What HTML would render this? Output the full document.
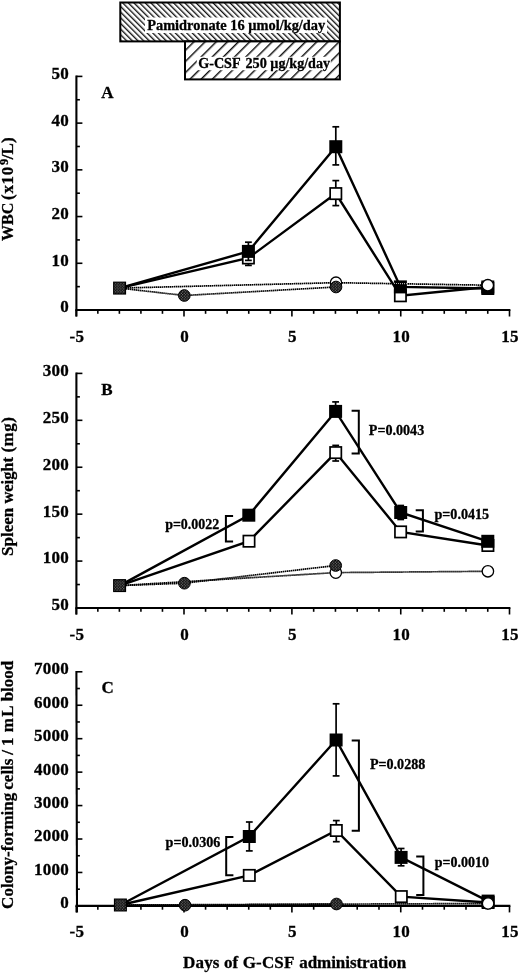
<!DOCTYPE html>
<html><head><meta charset="utf-8"><title>Figure</title>
<style>html,body{margin:0;padding:0;background:#fff;}svg{display:block;will-change:transform;}text{font-family:"Liberation Serif",serif;font-weight:bold;fill:#000;stroke:#000;stroke-width:0.3px;}</style></head><body>
<svg width="520" height="973" viewBox="0 0 520 973">
<defs>
<pattern id="h1" width="4" height="4" patternUnits="userSpaceOnUse" patternTransform="rotate(-45)">
<rect width="4" height="4" fill="#fff"/><rect width="1.35" height="4" fill="#111"/></pattern>
<pattern id="h2" width="7.9" height="8" patternUnits="userSpaceOnUse" patternTransform="rotate(45)">
<rect width="7.9" height="8" fill="#fff"/><rect width="1.45" height="8" fill="#111"/></pattern>
<pattern id="g" width="2.8" height="2.8" patternUnits="userSpaceOnUse">
<rect width="2.8" height="2.8" fill="#000"/><circle cx="0.7" cy="0.7" r="0.6" fill="#999"/><circle cx="2.1" cy="2.1" r="0.6" fill="#999"/></pattern>
</defs>
<rect width="520" height="973" fill="#fff"/>
<rect x="120.3" y="2.5" width="219.6" height="38.9" fill="url(#h1)" stroke="#000" stroke-width="2"/>
<rect x="185" y="41.4" width="154.9" height="38" fill="url(#h2)" stroke="#000" stroke-width="2"/>
<rect x="145" y="17.5" width="182" height="15.5" fill="#fff"/>
<rect x="196.8" y="56.8" width="134" height="13.4" fill="#fff"/>
<text x="147.2" y="29.5" font-size="14" textLength="178" lengthAdjust="spacingAndGlyphs">Pamidronate 16 µmol/kg/day</text>
<g font-size="14.4"><text x="198.2" y="68.0" textLength="42.4" lengthAdjust="spacingAndGlyphs">G-CSF</text><text x="245.5" y="68.0" textLength="21.35" lengthAdjust="spacingAndGlyphs">250</text><text x="270.3" y="68.0" textLength="59.7" lengthAdjust="spacingAndGlyphs">µg/kg/day</text></g>
<line x1="76.4" y1="75.5" x2="76.4" y2="316.5" stroke="#000" stroke-width="2.1"/>
<line x1="75.4" y1="310.0" x2="510.4" y2="310.0" stroke="#000" stroke-width="2.2"/>
<line x1="76.4" y1="286.64" x2="79.9" y2="286.64" stroke="#000" stroke-width="1.6"/>
<line x1="76.4" y1="263.28" x2="82.4" y2="263.28" stroke="#000" stroke-width="1.6"/>
<line x1="76.4" y1="239.92" x2="79.9" y2="239.92" stroke="#000" stroke-width="1.6"/>
<line x1="76.4" y1="216.56" x2="82.4" y2="216.56" stroke="#000" stroke-width="1.6"/>
<line x1="76.4" y1="193.20" x2="79.9" y2="193.20" stroke="#000" stroke-width="1.6"/>
<line x1="76.4" y1="169.84" x2="82.4" y2="169.84" stroke="#000" stroke-width="1.6"/>
<line x1="76.4" y1="146.48" x2="79.9" y2="146.48" stroke="#000" stroke-width="1.6"/>
<line x1="76.4" y1="123.12" x2="82.4" y2="123.12" stroke="#000" stroke-width="1.6"/>
<line x1="76.4" y1="99.76" x2="79.9" y2="99.76" stroke="#000" stroke-width="1.6"/>
<line x1="76.4" y1="76.40" x2="82.4" y2="76.40" stroke="#000" stroke-width="1.6"/>
<text x="69.1" y="312.40" font-size="17" letter-spacing="0.3" text-anchor="end">0</text>
<text x="69.1" y="265.68" font-size="17" letter-spacing="0.3" text-anchor="end">10</text>
<text x="69.1" y="218.96" font-size="17" letter-spacing="0.3" text-anchor="end">20</text>
<text x="69.1" y="172.24" font-size="17" letter-spacing="0.3" text-anchor="end">30</text>
<text x="69.1" y="125.52" font-size="17" letter-spacing="0.3" text-anchor="end">40</text>
<text x="69.1" y="78.80" font-size="17" letter-spacing="0.3" text-anchor="end">50</text>
<line x1="76.30" y1="310.0" x2="76.30" y2="316.5" stroke="#000" stroke-width="1.6"/>
<line x1="97.84" y1="310.0" x2="97.84" y2="313.8" stroke="#000" stroke-width="1.6"/>
<line x1="119.38" y1="310.0" x2="119.38" y2="313.8" stroke="#000" stroke-width="1.6"/>
<line x1="140.92" y1="310.0" x2="140.92" y2="313.8" stroke="#000" stroke-width="1.6"/>
<line x1="162.46" y1="310.0" x2="162.46" y2="313.8" stroke="#000" stroke-width="1.6"/>
<line x1="184.00" y1="310.0" x2="184.00" y2="316.5" stroke="#000" stroke-width="1.6"/>
<line x1="205.58" y1="310.0" x2="205.58" y2="313.8" stroke="#000" stroke-width="1.6"/>
<line x1="227.16" y1="310.0" x2="227.16" y2="313.8" stroke="#000" stroke-width="1.6"/>
<line x1="248.74" y1="310.0" x2="248.74" y2="313.8" stroke="#000" stroke-width="1.6"/>
<line x1="270.32" y1="310.0" x2="270.32" y2="313.8" stroke="#000" stroke-width="1.6"/>
<line x1="291.90" y1="310.0" x2="291.90" y2="316.5" stroke="#000" stroke-width="1.6"/>
<line x1="313.67" y1="310.0" x2="313.67" y2="313.8" stroke="#000" stroke-width="1.6"/>
<line x1="335.44" y1="310.0" x2="335.44" y2="313.8" stroke="#000" stroke-width="1.6"/>
<line x1="357.21" y1="310.0" x2="357.21" y2="313.8" stroke="#000" stroke-width="1.6"/>
<line x1="378.98" y1="310.0" x2="378.98" y2="313.8" stroke="#000" stroke-width="1.6"/>
<line x1="400.75" y1="310.0" x2="400.75" y2="316.5" stroke="#000" stroke-width="1.6"/>
<line x1="422.50" y1="310.0" x2="422.50" y2="313.8" stroke="#000" stroke-width="1.6"/>
<line x1="444.25" y1="310.0" x2="444.25" y2="313.8" stroke="#000" stroke-width="1.6"/>
<line x1="466.00" y1="310.0" x2="466.00" y2="313.8" stroke="#000" stroke-width="1.6"/>
<line x1="487.75" y1="310.0" x2="487.75" y2="313.8" stroke="#000" stroke-width="1.6"/>
<line x1="509.50" y1="310.0" x2="509.50" y2="316.5" stroke="#000" stroke-width="1.6"/>
<text x="76.90" y="341.50" font-size="17" letter-spacing="0.3" text-anchor="middle">-5</text>
<text x="184.60" y="341.50" font-size="17" letter-spacing="0.3" text-anchor="middle">0</text>
<text x="292.50" y="341.50" font-size="17" letter-spacing="0.3" text-anchor="middle">5</text>
<text x="401.35" y="341.50" font-size="17" letter-spacing="0.3" text-anchor="middle">10</text>
<text x="510.10" y="341.50" font-size="17" letter-spacing="0.3" text-anchor="middle">15</text>
<line x1="76.4" y1="372.5" x2="76.4" y2="614.5" stroke="#000" stroke-width="2.1"/>
<line x1="75.4" y1="608.0" x2="510.4" y2="608.0" stroke="#000" stroke-width="2.2"/>
<line x1="76.4" y1="584.54" x2="79.9" y2="584.54" stroke="#000" stroke-width="1.6"/>
<line x1="76.4" y1="561.08" x2="82.4" y2="561.08" stroke="#000" stroke-width="1.6"/>
<line x1="76.4" y1="537.62" x2="79.9" y2="537.62" stroke="#000" stroke-width="1.6"/>
<line x1="76.4" y1="514.16" x2="82.4" y2="514.16" stroke="#000" stroke-width="1.6"/>
<line x1="76.4" y1="490.70" x2="79.9" y2="490.70" stroke="#000" stroke-width="1.6"/>
<line x1="76.4" y1="467.24" x2="82.4" y2="467.24" stroke="#000" stroke-width="1.6"/>
<line x1="76.4" y1="443.78" x2="79.9" y2="443.78" stroke="#000" stroke-width="1.6"/>
<line x1="76.4" y1="420.32" x2="82.4" y2="420.32" stroke="#000" stroke-width="1.6"/>
<line x1="76.4" y1="396.86" x2="79.9" y2="396.86" stroke="#000" stroke-width="1.6"/>
<line x1="76.4" y1="373.40" x2="82.4" y2="373.40" stroke="#000" stroke-width="1.6"/>
<text x="69.1" y="610.40" font-size="17" letter-spacing="0.3" text-anchor="end">50</text>
<text x="69.1" y="563.48" font-size="17" letter-spacing="0.3" text-anchor="end">100</text>
<text x="69.1" y="516.56" font-size="17" letter-spacing="0.3" text-anchor="end">150</text>
<text x="69.1" y="469.64" font-size="17" letter-spacing="0.3" text-anchor="end">200</text>
<text x="69.1" y="422.72" font-size="17" letter-spacing="0.3" text-anchor="end">250</text>
<text x="69.1" y="375.80" font-size="17" letter-spacing="0.3" text-anchor="end">300</text>
<line x1="76.30" y1="608.0" x2="76.30" y2="614.5" stroke="#000" stroke-width="1.6"/>
<line x1="97.84" y1="608.0" x2="97.84" y2="611.8" stroke="#000" stroke-width="1.6"/>
<line x1="119.38" y1="608.0" x2="119.38" y2="611.8" stroke="#000" stroke-width="1.6"/>
<line x1="140.92" y1="608.0" x2="140.92" y2="611.8" stroke="#000" stroke-width="1.6"/>
<line x1="162.46" y1="608.0" x2="162.46" y2="611.8" stroke="#000" stroke-width="1.6"/>
<line x1="184.00" y1="608.0" x2="184.00" y2="614.5" stroke="#000" stroke-width="1.6"/>
<line x1="205.58" y1="608.0" x2="205.58" y2="611.8" stroke="#000" stroke-width="1.6"/>
<line x1="227.16" y1="608.0" x2="227.16" y2="611.8" stroke="#000" stroke-width="1.6"/>
<line x1="248.74" y1="608.0" x2="248.74" y2="611.8" stroke="#000" stroke-width="1.6"/>
<line x1="270.32" y1="608.0" x2="270.32" y2="611.8" stroke="#000" stroke-width="1.6"/>
<line x1="291.90" y1="608.0" x2="291.90" y2="614.5" stroke="#000" stroke-width="1.6"/>
<line x1="313.67" y1="608.0" x2="313.67" y2="611.8" stroke="#000" stroke-width="1.6"/>
<line x1="335.44" y1="608.0" x2="335.44" y2="611.8" stroke="#000" stroke-width="1.6"/>
<line x1="357.21" y1="608.0" x2="357.21" y2="611.8" stroke="#000" stroke-width="1.6"/>
<line x1="378.98" y1="608.0" x2="378.98" y2="611.8" stroke="#000" stroke-width="1.6"/>
<line x1="400.75" y1="608.0" x2="400.75" y2="614.5" stroke="#000" stroke-width="1.6"/>
<line x1="422.50" y1="608.0" x2="422.50" y2="611.8" stroke="#000" stroke-width="1.6"/>
<line x1="444.25" y1="608.0" x2="444.25" y2="611.8" stroke="#000" stroke-width="1.6"/>
<line x1="466.00" y1="608.0" x2="466.00" y2="611.8" stroke="#000" stroke-width="1.6"/>
<line x1="487.75" y1="608.0" x2="487.75" y2="611.8" stroke="#000" stroke-width="1.6"/>
<line x1="509.50" y1="608.0" x2="509.50" y2="614.5" stroke="#000" stroke-width="1.6"/>
<text x="76.90" y="639.50" font-size="17" letter-spacing="0.3" text-anchor="middle">-5</text>
<text x="184.60" y="639.50" font-size="17" letter-spacing="0.3" text-anchor="middle">0</text>
<text x="292.50" y="639.50" font-size="17" letter-spacing="0.3" text-anchor="middle">5</text>
<text x="401.35" y="639.50" font-size="17" letter-spacing="0.3" text-anchor="middle">10</text>
<text x="510.10" y="639.50" font-size="17" letter-spacing="0.3" text-anchor="middle">15</text>
<line x1="76.4" y1="670.9" x2="77.0" y2="912.4" stroke="#000" stroke-width="2.1"/>
<line x1="75.4" y1="905.9" x2="510.4" y2="905.9" stroke="#000" stroke-width="2.2"/>
<line x1="76.4" y1="889.18" x2="79.9" y2="889.18" stroke="#000" stroke-width="1.6"/>
<line x1="76.4" y1="872.46" x2="82.4" y2="872.46" stroke="#000" stroke-width="1.6"/>
<line x1="76.4" y1="855.74" x2="79.9" y2="855.74" stroke="#000" stroke-width="1.6"/>
<line x1="76.4" y1="839.01" x2="82.4" y2="839.01" stroke="#000" stroke-width="1.6"/>
<line x1="76.4" y1="822.29" x2="79.9" y2="822.29" stroke="#000" stroke-width="1.6"/>
<line x1="76.4" y1="805.57" x2="82.4" y2="805.57" stroke="#000" stroke-width="1.6"/>
<line x1="76.4" y1="788.85" x2="79.9" y2="788.85" stroke="#000" stroke-width="1.6"/>
<line x1="76.4" y1="772.13" x2="82.4" y2="772.13" stroke="#000" stroke-width="1.6"/>
<line x1="76.4" y1="755.41" x2="79.9" y2="755.41" stroke="#000" stroke-width="1.6"/>
<line x1="76.4" y1="738.69" x2="82.4" y2="738.69" stroke="#000" stroke-width="1.6"/>
<line x1="76.4" y1="721.96" x2="79.9" y2="721.96" stroke="#000" stroke-width="1.6"/>
<line x1="76.4" y1="705.24" x2="82.4" y2="705.24" stroke="#000" stroke-width="1.6"/>
<line x1="76.4" y1="688.52" x2="79.9" y2="688.52" stroke="#000" stroke-width="1.6"/>
<line x1="76.4" y1="671.80" x2="82.4" y2="671.80" stroke="#000" stroke-width="1.6"/>
<text x="69.1" y="908.30" font-size="17" letter-spacing="0.3" text-anchor="end">0</text>
<text x="69.1" y="874.86" font-size="17" letter-spacing="0.3" text-anchor="end">1000</text>
<text x="69.1" y="841.41" font-size="17" letter-spacing="0.3" text-anchor="end">2000</text>
<text x="69.1" y="807.97" font-size="17" letter-spacing="0.3" text-anchor="end">3000</text>
<text x="69.1" y="774.53" font-size="17" letter-spacing="0.3" text-anchor="end">4000</text>
<text x="69.1" y="741.09" font-size="17" letter-spacing="0.3" text-anchor="end">5000</text>
<text x="69.1" y="707.64" font-size="17" letter-spacing="0.3" text-anchor="end">6000</text>
<text x="69.1" y="674.20" font-size="17" letter-spacing="0.3" text-anchor="end">7000</text>
<line x1="76.30" y1="905.9" x2="76.30" y2="912.4" stroke="#000" stroke-width="1.6"/>
<line x1="97.84" y1="905.9" x2="97.84" y2="909.6999999999999" stroke="#000" stroke-width="1.6"/>
<line x1="119.38" y1="905.9" x2="119.38" y2="909.6999999999999" stroke="#000" stroke-width="1.6"/>
<line x1="140.92" y1="905.9" x2="140.92" y2="909.6999999999999" stroke="#000" stroke-width="1.6"/>
<line x1="162.46" y1="905.9" x2="162.46" y2="909.6999999999999" stroke="#000" stroke-width="1.6"/>
<line x1="184.00" y1="905.9" x2="184.00" y2="912.4" stroke="#000" stroke-width="1.6"/>
<line x1="205.58" y1="905.9" x2="205.58" y2="909.6999999999999" stroke="#000" stroke-width="1.6"/>
<line x1="227.16" y1="905.9" x2="227.16" y2="909.6999999999999" stroke="#000" stroke-width="1.6"/>
<line x1="248.74" y1="905.9" x2="248.74" y2="909.6999999999999" stroke="#000" stroke-width="1.6"/>
<line x1="270.32" y1="905.9" x2="270.32" y2="909.6999999999999" stroke="#000" stroke-width="1.6"/>
<line x1="291.90" y1="905.9" x2="291.90" y2="912.4" stroke="#000" stroke-width="1.6"/>
<line x1="313.67" y1="905.9" x2="313.67" y2="909.6999999999999" stroke="#000" stroke-width="1.6"/>
<line x1="335.44" y1="905.9" x2="335.44" y2="909.6999999999999" stroke="#000" stroke-width="1.6"/>
<line x1="357.21" y1="905.9" x2="357.21" y2="909.6999999999999" stroke="#000" stroke-width="1.6"/>
<line x1="378.98" y1="905.9" x2="378.98" y2="909.6999999999999" stroke="#000" stroke-width="1.6"/>
<line x1="400.75" y1="905.9" x2="400.75" y2="912.4" stroke="#000" stroke-width="1.6"/>
<line x1="422.50" y1="905.9" x2="422.50" y2="909.6999999999999" stroke="#000" stroke-width="1.6"/>
<line x1="444.25" y1="905.9" x2="444.25" y2="909.6999999999999" stroke="#000" stroke-width="1.6"/>
<line x1="466.00" y1="905.9" x2="466.00" y2="909.6999999999999" stroke="#000" stroke-width="1.6"/>
<line x1="487.75" y1="905.9" x2="487.75" y2="909.6999999999999" stroke="#000" stroke-width="1.6"/>
<line x1="509.50" y1="905.9" x2="509.50" y2="912.4" stroke="#000" stroke-width="1.6"/>
<text x="76.90" y="937.40" font-size="17" letter-spacing="0.3" text-anchor="middle">-5</text>
<text x="184.60" y="937.40" font-size="17" letter-spacing="0.3" text-anchor="middle">0</text>
<text x="292.50" y="937.40" font-size="17" letter-spacing="0.3" text-anchor="middle">5</text>
<text x="401.35" y="937.40" font-size="17" letter-spacing="0.3" text-anchor="middle">10</text>
<text x="510.10" y="937.40" font-size="17" letter-spacing="0.3" text-anchor="middle">15</text>
<text x="101.2" y="98.3" font-size="17">A</text>
<text x="101.2" y="395.4" font-size="17">B</text>
<text x="101.4" y="693.3" font-size="17">C</text>
<g transform="translate(13.1,189.0) rotate(-90)" font-size="17"><text x="-52.0" textLength="38.3" lengthAdjust="spacingAndGlyphs">WBC</text><text x="-10.9" textLength="33.1" lengthAdjust="spacing">(x10</text><text x="23.9" y="-5.6" font-size="12.5">9</text><text x="29.8" textLength="21.9" lengthAdjust="spacing">/L)</text></g>
<g transform="translate(13.0,486.6) rotate(-90)" font-size="17"><text x="-69.41">Spleen</text><text x="-17.0" textLength="46.6" lengthAdjust="spacingAndGlyphs">weight</text><text x="34.0" textLength="35.6" lengthAdjust="spacing">(mg)</text></g>
<g transform="translate(13.0,784.2) rotate(-90)" font-size="17"><text x="-124.7">Colony-forming</text><text x="-5.5">cells</text><text x="29.5">/</text><text x="38.3">1</text><text x="51.9" textLength="26.8" lengthAdjust="spacing">mL</text><text x="82.85">blood</text></g>
<text x="183.1" y="967.5" font-size="17" textLength="111.2" lengthAdjust="spacing">Days of G-CSF</text>
<text x="299.2" y="967.5" font-size="17" textLength="107" lengthAdjust="spacing">administration</text>
<polyline points="119.60,288.10 248.40,258.00 335.80,193.60 400.40,295.80 487.80,287.00" fill="none" stroke="#000" stroke-width="2.4"/>
<polyline points="119.60,288.10 248.40,251.40 335.80,146.70 400.40,286.90 487.80,288.50" fill="none" stroke="#000" stroke-width="2.4"/>
<line x1="248.40" y1="251.00" x2="248.40" y2="265.40" stroke="#000" stroke-width="1.7"/><line x1="245.00" y1="251.00" x2="251.80" y2="251.00" stroke="#000" stroke-width="1.7"/><line x1="245.00" y1="265.40" x2="251.80" y2="265.40" stroke="#000" stroke-width="1.7"/>
<line x1="335.80" y1="180.60" x2="335.80" y2="205.60" stroke="#000" stroke-width="1.7"/><line x1="332.40" y1="180.60" x2="339.20" y2="180.60" stroke="#000" stroke-width="1.7"/><line x1="332.40" y1="205.60" x2="339.20" y2="205.60" stroke="#000" stroke-width="1.7"/>
<rect x="242.75" y="252.35" width="11.30" height="11.30" fill="#fff" stroke="#000" stroke-width="1.7"/>
<rect x="330.15" y="187.95" width="11.30" height="11.30" fill="#fff" stroke="#000" stroke-width="1.7"/>
<rect x="394.75" y="290.15" width="11.30" height="11.30" fill="#fff" stroke="#000" stroke-width="1.7"/>
<rect x="482.15" y="281.35" width="11.30" height="11.30" fill="#fff" stroke="#000" stroke-width="1.7"/>
<line x1="248.40" y1="242.20" x2="248.40" y2="260.40" stroke="#000" stroke-width="1.7"/><line x1="245.00" y1="242.20" x2="251.80" y2="242.20" stroke="#000" stroke-width="1.7"/><line x1="245.00" y1="260.40" x2="251.80" y2="260.40" stroke="#000" stroke-width="1.7"/>
<line x1="335.80" y1="126.80" x2="335.80" y2="164.90" stroke="#000" stroke-width="1.7"/><line x1="332.40" y1="126.80" x2="339.20" y2="126.80" stroke="#000" stroke-width="1.7"/><line x1="332.40" y1="164.90" x2="339.20" y2="164.90" stroke="#000" stroke-width="1.7"/>
<rect x="241.90" y="244.90" width="13.0" height="13.0" fill="#000"/>
<rect x="329.30" y="140.20" width="13.0" height="13.0" fill="#000"/>
<rect x="393.90" y="280.40" width="13.0" height="13.0" fill="#000"/>
<rect x="481.30" y="282.00" width="13.0" height="13.0" fill="#000"/>
<polyline points="119.60,288.10 336.00,282.70 487.80,285.20" fill="none" stroke="#000" stroke-width="1.7" stroke-dasharray="1.5 0.5"/>
<polyline points="119.60,288.10 184.30,295.50 336.00,287.00" fill="none" stroke="#000" stroke-width="1.7" stroke-dasharray="1.5 0.5"/>
<circle cx="336.00" cy="282.70" r="5.70" fill="#fff" stroke="#000" stroke-width="1.3"/>
<circle cx="487.80" cy="285.20" r="5.70" fill="#fff" stroke="#000" stroke-width="1.3"/>
<circle cx="184.30" cy="295.50" r="5.85" fill="url(#g)" stroke="#000" stroke-width="1.0"/>
<circle cx="336.00" cy="287.00" r="5.85" fill="url(#g)" stroke="#000" stroke-width="1.0"/>
<rect x="113.70" y="282.20" width="11.8" height="11.8" fill="url(#g)" stroke="#000" stroke-width="1.2"/>
<polyline points="394.20,283.45 406.80,283.65" fill="none" stroke="#fff" stroke-width="1.2" stroke-dasharray="0.7 1.3"/>
<polyline points="119.60,585.60 249.00,541.20 335.70,452.60 400.60,531.90 487.90,545.50" fill="none" stroke="#000" stroke-width="2.4"/>
<polyline points="119.60,585.60 248.80,515.20 335.60,411.40 400.70,512.50 487.80,541.30" fill="none" stroke="#000" stroke-width="2.4"/>
<line x1="335.70" y1="445.40" x2="335.70" y2="461.00" stroke="#000" stroke-width="1.7"/><line x1="332.30" y1="445.40" x2="339.10" y2="445.40" stroke="#000" stroke-width="1.7"/><line x1="332.30" y1="461.00" x2="339.10" y2="461.00" stroke="#000" stroke-width="1.7"/>
<rect x="243.35" y="535.55" width="11.30" height="11.30" fill="#fff" stroke="#000" stroke-width="1.7"/>
<rect x="330.05" y="446.95" width="11.30" height="11.30" fill="#fff" stroke="#000" stroke-width="1.7"/>
<rect x="394.95" y="526.25" width="11.30" height="11.30" fill="#fff" stroke="#000" stroke-width="1.7"/>
<rect x="482.25" y="539.85" width="11.30" height="11.30" fill="#fff" stroke="#000" stroke-width="1.7"/>
<line x1="335.60" y1="401.90" x2="335.60" y2="411.40" stroke="#000" stroke-width="1.7"/><line x1="332.20" y1="401.90" x2="339.00" y2="401.90" stroke="#000" stroke-width="1.7"/>
<line x1="400.70" y1="505.50" x2="400.70" y2="519.50" stroke="#000" stroke-width="1.7"/><line x1="397.30" y1="505.50" x2="404.10" y2="505.50" stroke="#000" stroke-width="1.7"/><line x1="397.30" y1="519.50" x2="404.10" y2="519.50" stroke="#000" stroke-width="1.7"/>
<rect x="242.30" y="508.70" width="13.0" height="13.0" fill="#000"/>
<rect x="329.10" y="404.90" width="13.0" height="13.0" fill="#000"/>
<rect x="394.20" y="506.00" width="13.0" height="13.0" fill="#000"/>
<rect x="481.30" y="534.80" width="13.0" height="13.0" fill="#000"/>
<polyline points="119.60,585.60 335.80,572.60 487.90,571.30" fill="none" stroke="#000" stroke-width="1.7" stroke-dasharray="1.5 0.5"/>
<polyline points="119.60,585.60 184.40,583.20 335.70,565.50" fill="none" stroke="#000" stroke-width="1.7" stroke-dasharray="1.5 0.5"/>
<circle cx="335.80" cy="572.60" r="5.70" fill="#fff" stroke="#000" stroke-width="1.3"/>
<circle cx="487.90" cy="571.30" r="5.70" fill="#fff" stroke="#000" stroke-width="1.3"/>
<circle cx="184.40" cy="583.20" r="5.85" fill="url(#g)" stroke="#000" stroke-width="1.0"/>
<circle cx="335.70" cy="565.50" r="5.85" fill="url(#g)" stroke="#000" stroke-width="1.0"/>
<rect x="113.70" y="579.70" width="11.8" height="11.8" fill="url(#g)" stroke="#000" stroke-width="1.2"/>
<polyline points="120.40,905.00 249.30,875.40 336.30,830.50 401.30,896.60 488.10,902.50" fill="none" stroke="#000" stroke-width="2.4"/>
<polyline points="120.40,905.00 249.30,836.50 336.10,740.00 401.10,857.40 488.10,901.10" fill="none" stroke="#000" stroke-width="2.4"/>
<line x1="336.30" y1="820.60" x2="336.30" y2="841.70" stroke="#000" stroke-width="1.7"/><line x1="332.90" y1="820.60" x2="339.70" y2="820.60" stroke="#000" stroke-width="1.7"/><line x1="332.90" y1="841.70" x2="339.70" y2="841.70" stroke="#000" stroke-width="1.7"/>
<rect x="243.65" y="869.75" width="11.30" height="11.30" fill="#fff" stroke="#000" stroke-width="1.7"/>
<rect x="330.65" y="824.85" width="11.30" height="11.30" fill="#fff" stroke="#000" stroke-width="1.7"/>
<rect x="395.65" y="890.95" width="11.30" height="11.30" fill="#fff" stroke="#000" stroke-width="1.7"/>
<rect x="482.45" y="896.85" width="11.30" height="11.30" fill="#fff" stroke="#000" stroke-width="1.7"/>
<line x1="249.30" y1="822.00" x2="249.30" y2="850.90" stroke="#000" stroke-width="1.7"/><line x1="245.90" y1="822.00" x2="252.70" y2="822.00" stroke="#000" stroke-width="1.7"/><line x1="245.90" y1="850.90" x2="252.70" y2="850.90" stroke="#000" stroke-width="1.7"/>
<line x1="336.10" y1="703.80" x2="336.10" y2="775.90" stroke="#000" stroke-width="1.7"/><line x1="332.70" y1="703.80" x2="339.50" y2="703.80" stroke="#000" stroke-width="1.7"/><line x1="332.70" y1="775.90" x2="339.50" y2="775.90" stroke="#000" stroke-width="1.7"/>
<line x1="401.10" y1="848.50" x2="401.10" y2="865.80" stroke="#000" stroke-width="1.7"/><line x1="397.70" y1="848.50" x2="404.50" y2="848.50" stroke="#000" stroke-width="1.7"/><line x1="397.70" y1="865.80" x2="404.50" y2="865.80" stroke="#000" stroke-width="1.7"/>
<rect x="242.80" y="830.00" width="13.0" height="13.0" fill="#000"/>
<rect x="329.60" y="733.50" width="13.0" height="13.0" fill="#000"/>
<rect x="394.60" y="850.90" width="13.0" height="13.0" fill="#000"/>
<rect x="481.60" y="894.60" width="13.0" height="13.0" fill="#000"/>
<polyline points="120.40,905.00 488.10,903.50" fill="none" stroke="#000" stroke-width="1.7" stroke-dasharray="1.5 0.5"/>
<polyline points="120.40,905.00 185.00,905.20 336.50,904.00" fill="none" stroke="#000" stroke-width="1.7" stroke-dasharray="1.5 0.5"/>
<circle cx="488.10" cy="903.50" r="5.70" fill="#fff" stroke="#000" stroke-width="1.3"/>
<circle cx="185.00" cy="905.20" r="5.85" fill="url(#g)" stroke="#000" stroke-width="1.0"/>
<circle cx="336.50" cy="904.00" r="5.85" fill="url(#g)" stroke="#000" stroke-width="1.0"/>
<rect x="114.50" y="899.10" width="11.8" height="11.8" fill="url(#g)" stroke="#000" stroke-width="1.2"/>
<polyline points="233.10,516.00 225.90,516.00 225.90,541.60 233.10,541.60" fill="none" stroke="#000" stroke-width="2"/>
<text x="165.2" y="528.8" font-size="14" textLength="54.0" lengthAdjust="spacingAndGlyphs">p=0.0022</text>
<polyline points="351.60,410.80 358.80,410.80 358.80,453.50 351.60,453.50" fill="none" stroke="#000" stroke-width="2"/>
<text x="368.8" y="434.5" font-size="14" textLength="55.4" lengthAdjust="spacingAndGlyphs">P=0.0043</text>
<polyline points="415.70,510.30 422.90,510.30 422.90,531.60 415.70,531.60" fill="none" stroke="#000" stroke-width="2"/>
<text x="434.4" y="518.8" font-size="14" textLength="54.8" lengthAdjust="spacingAndGlyphs">p=0.0415</text>
<polyline points="233.40,837.10 226.20,837.10 226.20,875.30 233.40,875.30" fill="none" stroke="#000" stroke-width="2"/>
<text x="165.6" y="847.4" font-size="14" textLength="54.8" lengthAdjust="spacingAndGlyphs">p=0.0306</text>
<polyline points="351.70,740.40 358.90,740.40 358.90,830.70 351.70,830.70" fill="none" stroke="#000" stroke-width="2"/>
<text x="369.9" y="769.3" font-size="14" textLength="55.4" lengthAdjust="spacingAndGlyphs">P=0.0288</text>
<polyline points="416.20,856.50 423.40,856.50 423.40,895.10 416.20,895.10" fill="none" stroke="#000" stroke-width="2"/>
<text x="434.8" y="866.9" font-size="14" textLength="54.2" lengthAdjust="spacingAndGlyphs">p=0.0010</text>
</svg></body></html>
